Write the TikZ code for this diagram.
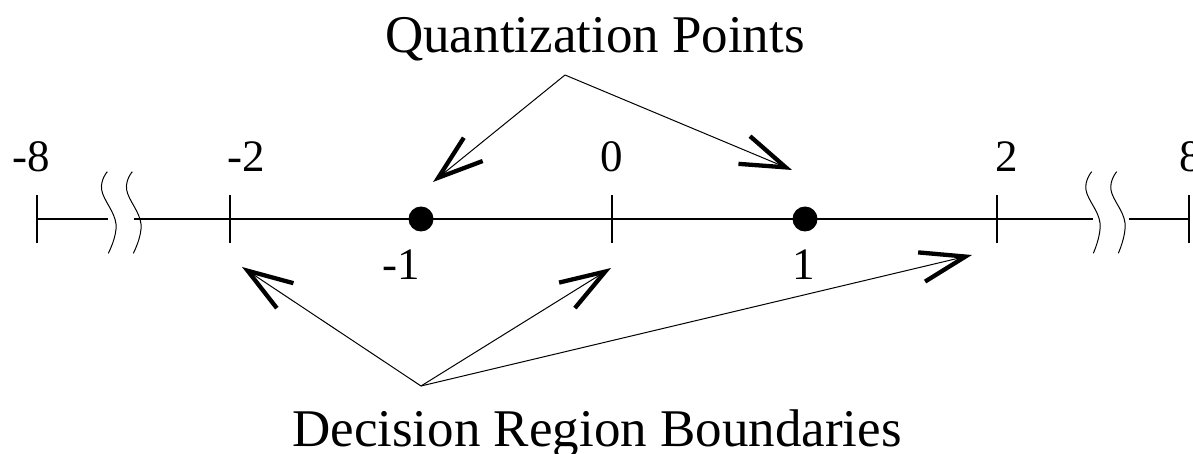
\documentclass[tikz,border=0pt]{standalone}
\usepackage{fontspec}
\setmainfont{Liberation Serif}
\usetikzlibrary{arrows.meta}
\begin{document}
\begin{tikzpicture}[x=1pt,y=-1pt,
  axisline/.style={line width=1.2pt},
  tickmark/.style={line width=1.1pt},
  brk/.style={line width=1pt},
  num/.style={font=\fontsize{45}{45}\selectfont, anchor=base, inner sep=0pt},
  caption/.style={font=\fontsize{53}{53}\selectfont, anchor=base, inner sep=0pt},
  ptr/.style={line width=1pt, -{Straight Barb[length=45pt,width=30pt,line width=4.3pt]}},
  qdot/.style={circle, fill=black, minimum size=25pt, inner sep=0pt}]
\useasboundingbox (0,0) rectangle (1193,454);
% ticks
\foreach \n/\x in {m8/37, m2/230, z/612, p2/997, p8/1189}{
  \coordinate (t\n) at (\x,219);
  \draw[tickmark] (\x,195) -- (\x,243);
}
% axis segments
\coordinate (lb1) at (108,219);
\coordinate (lb2) at (134,219);
\coordinate (rb1) at (1093,219);
\coordinate (rb2) at (1129,219);
\draw[axisline] (tm8) -- (lb1);
\draw[axisline] (lb2) -- (rb1);
\draw[axisline] (rb2) -- (tp8);
% break marks
\foreach \dx in {0,25}{
  \draw[brk, xshift=\dx] plot[smooth, tension=0.7] coordinates {(107.3,171.7) (101.7,190) (116,224) (108.3,253.3)};
  \draw[brk, xshift=\dx] plot[smooth, tension=0.7] coordinates {(1091.7,171.7) (1086,190) (1100,223) (1093.3,253.3)};
}
% quantization points
\node[qdot] (qm1) at (421,219) {};
\node[qdot] (qp1) at (805,219) {};
% labels
\node[num] (lm8) at (31,172) {-8};
\node[num] (lm2) at (246,172) {-2};
\node[num] (lz) at (612,172) {0};
\node[num] (lp2) at (1007,172) {2};
\node[num] (lp8) at (1191,172) {8};
\node[num] (lm1) at (401,279) {-1};
\node[num] (lp1) at (804,279) {1};
\node[caption] (qp) at (595,53) {Quantization Points};
\node[caption] (drb) at (597,446) {Decision Region Boundaries};
% arrows
\coordinate (qa) at (565,75);
\coordinate (qt1) at (433,182);
\coordinate (qt2) at (792,170);
\draw[ptr] (qa) -- (qt1);
\draw[ptr] (qa) -- (qt2);
\coordinate (da) at (421,386);
\coordinate (dt1) at (242,267);
\coordinate (dt2) at (611,268);
\coordinate (dt3) at (972,255);
\draw[ptr] (da) -- (dt1);
\draw[ptr] (da) -- (dt2);
\draw[ptr] (da) -- (dt3);
\end{tikzpicture}
\end{document}
